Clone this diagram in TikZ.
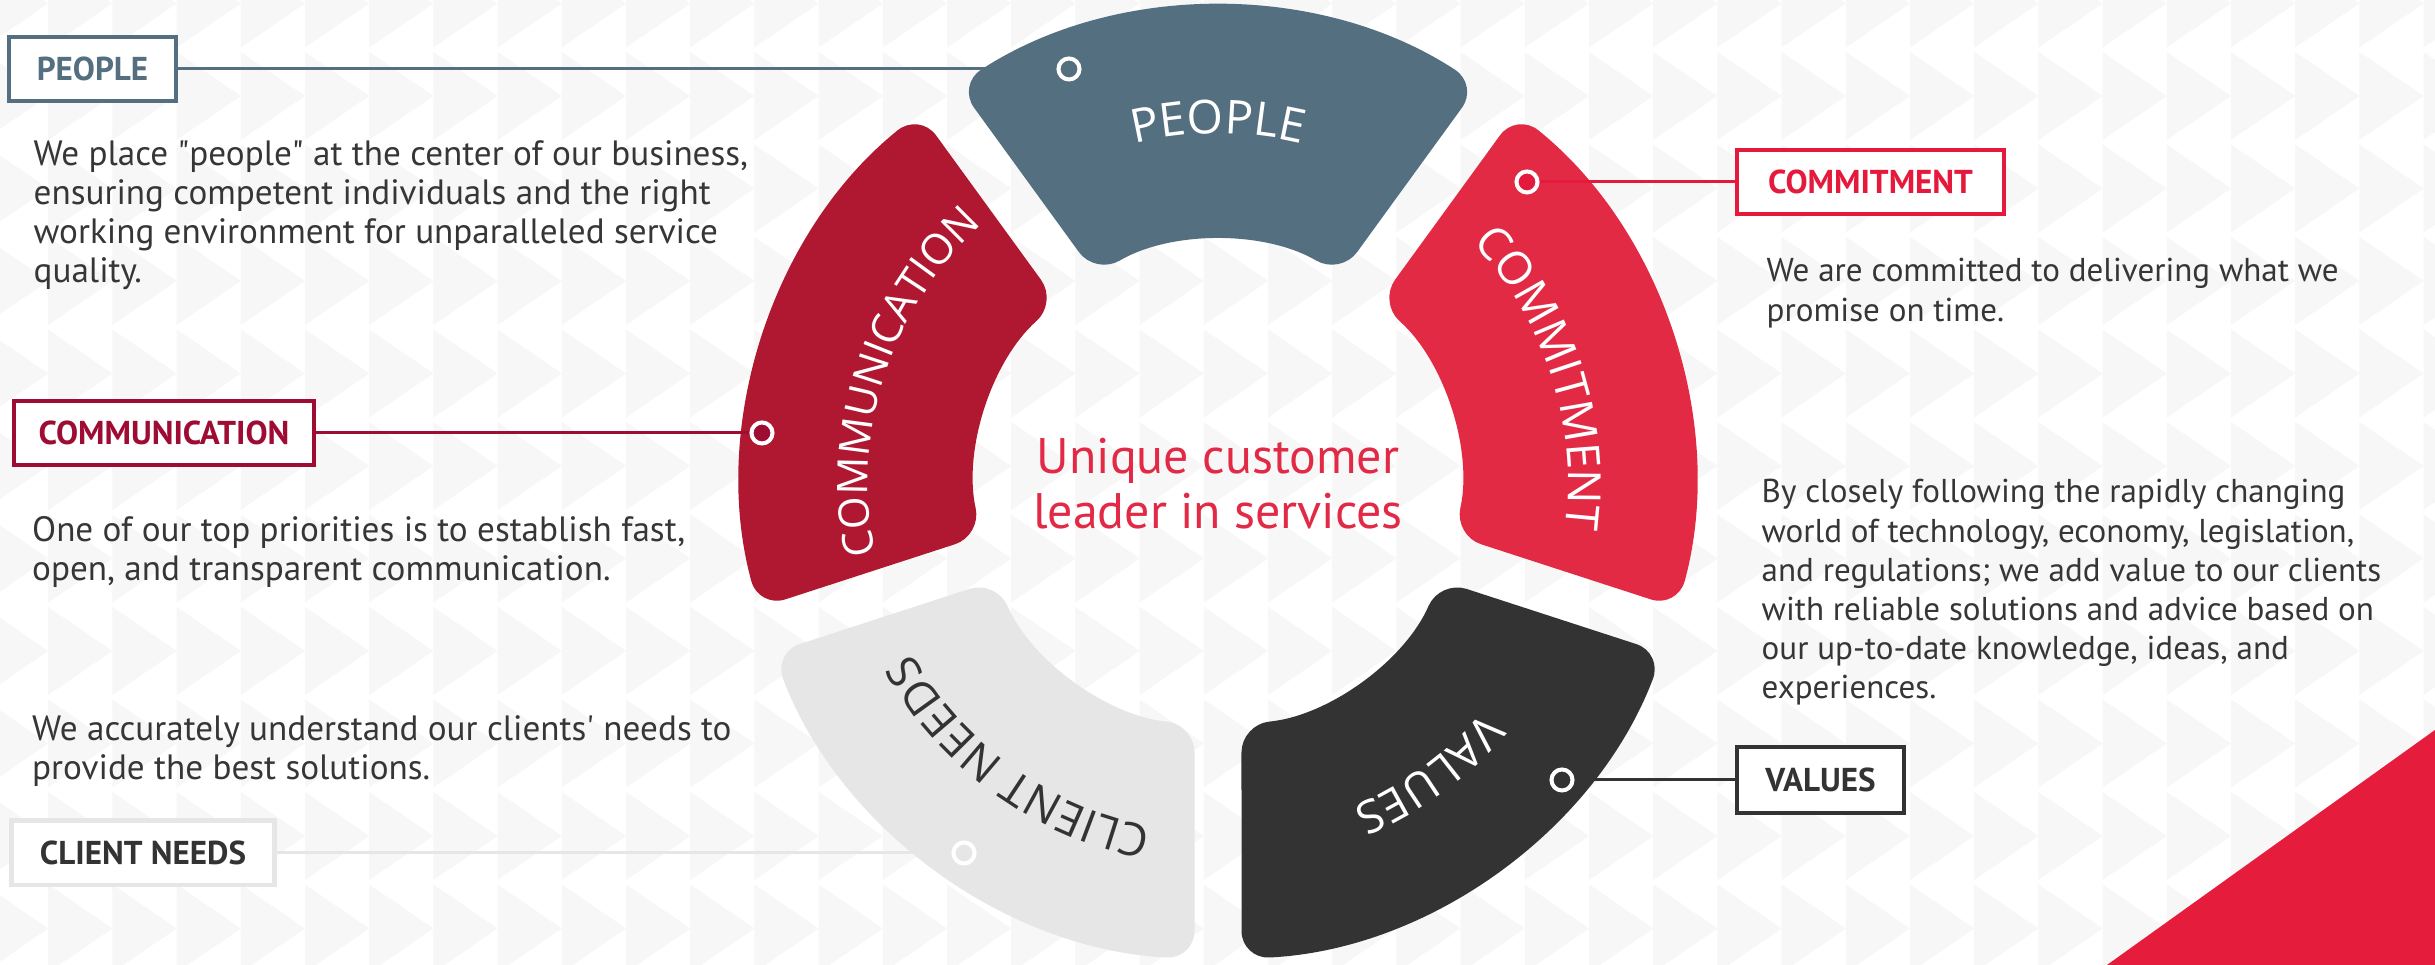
\documentclass[tikz,border=0pt]{standalone}
\usepackage{fontspec}
\setmainfont{PT Sans}
\newfontfamily\ringfont{Open Sans}
\usetikzlibrary{calc,positioning,decorations.text}

\definecolor{peoplecol}{HTML}{546F80}
\definecolor{commitcol}{HTML}{E32A45}
\definecolor{commitline}{HTML}{E5193B}
\definecolor{valuecol}{HTML}{333333}
\definecolor{clientcol}{HTML}{E6E6E6}
\definecolor{commcol}{HTML}{B01831}
\definecolor{commline}{HTML}{9E0B33}
\definecolor{textcol}{HTML}{363636}
\definecolor{mottocol}{HTML}{E22A46}
\definecolor{bgtri}{HTML}{F7F7F7}
\definecolor{cornercol}{HTML}{E51C3C}

\begin{document}
\begin{tikzpicture}[x=0.01cm,y=0.01cm]
		\tikzstyle{tag}=[draw,fill=white,line width=1pt,minimum height=0.64cm,inner sep=0pt,font=\fontsize{9.4}{11}\selectfont\bfseries]
		\tikzstyle{ringdot}=[circle,draw=white,line width=1.15pt,minimum size=0.21cm,inner sep=0pt]
		\tikzstyle{body}=[anchor=base west,inner sep=0pt,text=textcol,font=\fontsize{9.4}{11.1}\selectfont]
		\tikzstyle{bigbody}=[body,font=\fontsize{10}{11}\selectfont]
		\tikzstyle{wire}=[line width=0.85pt]
		\tikzstyle{seg}=[rounded corners=0.28cm,shift={(c)}]
		
		\useasboundingbox (0,0) rectangle (2435,965);
		\fill[white] (0,0) rectangle (2435,965);
		
		% background triangles
		\begin{scope}
		\clip (0,0) rectangle (2435,965);
		\foreach \i in {0,...,38}
		\foreach \j in {-1,...,10}
		\fill[bgtri] ({-16+64.2*\i},{913-92.5*\j}) -- ++(64.2,-44) -- ++(-64.2,-44) -- cycle;
		\end{scope}
		
		\fill[cornercol] (2107,0) -- (2435,235) -- (2435,0) -- cycle;
		
		% ring
		\coordinate (c) at (1218,481.5);
		\foreach \ang/\col in {90/peoplecol,18/commitcol,-54/valuecol,-126/clientcol,162/commcol}
		\fill[seg,\col,rotate=\ang-90] (56.83:476) arc[start angle=56.83,end angle=123.17,radius=476] -- (120.43:242) arc[start angle=120.43,end angle=59.57,radius=242] -- cycle;
		
		\path[shift={(c)},decorate,decoration={text along path,text align=center,text={|\ringfont\fontsize{13.3}{15}\selectfont\color{white}|PEOPLE}}] (122:350) arc[start angle=122,end angle=58,radius=350];
		\path[shift={(c)},rotate=-72,decorate,decoration={text along path,text align=center,text={|\ringfont\fontsize{13}{15}\selectfont\color{white}|COMMITMENT}}] (122:350) arc[start angle=122,end angle=58,radius=350];
		\path[shift={(c)},rotate=-144,decorate,decoration={text along path,text align=center,text={|\ringfont\fontsize{13}{15}\selectfont\color{white}|VALUES}}] (122:350) arc[start angle=122,end angle=58,radius=350];
		\path[shift={(c)},rotate=-216,decorate,decoration={text along path,text align=center,text={|\ringfont\fontsize{13}{15}\selectfont\color{valuecol}|CLIENT NEEDS}}] (122:350) arc[start angle=122,end angle=58,radius=350];
		\path[shift={(c)},rotate=72,decorate,decoration={text along path,text align=center,text={|\ringfont\fontsize{12}{15}\selectfont\color{white}|COMMUNICATION}}] (122:350) arc[start angle=122,end angle=58,radius=350];
		
		\node[text=mottocol,align=center,font=\fontsize{14.2}{15.5}\selectfont] (motto) at (c) {Unique customer\\leader in services};
		
		% tags and their dots
		\node[tag,draw=peoplecol,text=peoplecol,minimum width=1.67cm] (peoplebox) at (92.5,896) {PEOPLE};
		\node[tag,draw=commitline,text=commitline,minimum width=2.67cm] (commitbox) at (1870.5,783) {COMMITMENT};
		\node[tag,draw=commline,text=commline,minimum width=3cm] (commbox) at (164,532) {COMMUNICATION};
		\node[tag,draw=valuecol,text=valuecol,minimum width=1.67cm,minimum height=0.66cm] (valuebox) at (1820.5,185) {VALUES};
		\node[tag,draw=clientcol,line width=1.4pt,text=valuecol,minimum width=2.62cm] (clientbox) at (143,112) {CLIENT NEEDS};
		
		\node[ringdot,fill=peoplecol] (peopledot) at (1069,896) {};
		\node[ringdot,fill=commitline] (commitdot) at (1527,783) {};
		\node[ringdot,fill=commline] (commdot) at (762,532) {};
		\node[ringdot,fill=valuecol] (valuedot) at (1562,185) {};
		\node[ringdot,fill=clientcol] (clientdot) at (964,112) {};
		
		\foreach \i/\j/\col in {peoplebox/peopledot/peoplecol,commitbox/commitdot/commitline,commbox/commdot/commline,valuebox/valuedot/valuecol,clientbox/clientdot/clientcol}
		\draw[wire,\col] (\i) -- (\j);
		
		% texts
		\node[bigbody] (peopletxt) at (33,799) {\parbox[t]{8cm}{We place \textquotedbl people\textquotedbl{} at the center of our business,\\ensuring competent individuals and the right\\working environment for unparalleled service\\quality.}};
		\node[body] (committxt) at (1766,683) {\parbox[t]{8cm}{We are committed to delivering what we\\promise on time.}};
		\node[bigbody] (commtxt) at (31.5,423) {\parbox[t]{8cm}{One of our top priorities is to establish fast,\\open, and transparent communication.}};
		\node[body] (valuetxt) at (1761,462) {\parbox[t]{8cm}{By closely following the rapidly changing\\world of technology, economy, legislation,\\and regulations; we add value to our clients\\with reliable solutions and advice based on\\our up-to-date knowledge, ideas, and\\experiences.}};
		\node[bigbody] (clienttxt) at (31.5,224) {\parbox[t]{8cm}{We accurately understand our clients\textquotesingle{} needs to\\provide the best solutions.}};
		
	\end{tikzpicture}
\end{document}
